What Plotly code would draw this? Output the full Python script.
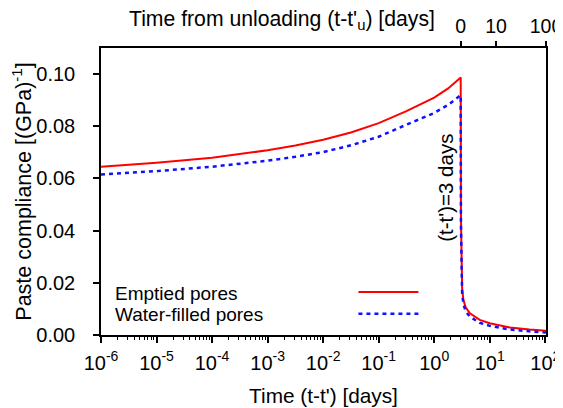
"""Paste compliance during loading and after unloading (log time axis)."""

import math

import plotly.graph_objects as go

FONT = "Liberation Sans, Arial, sans-serif"
BLACK = "#000000"
RED = "#ff0000"
BLUE = "#1010ff"

# time since loading, days
time_days = [1e-6, 1e-5, 1e-4, 1e-3, 3.16e-3, 1e-2, 3.16e-2, 1e-1, 3.16e-1, 1.0, 1.78,
             3.0, 3.03, 3.08, 3.18, 3.35, 3.7, 4.4, 6.6, 10, 23, 52, 103]
emptied = [0.0645, 0.0660, 0.0679, 0.0708, 0.0726, 0.0748, 0.0776, 0.0812, 0.0858, 0.0910, 0.0945,
           0.0987, 0.045, 0.026, 0.018, 0.0135, 0.0105, 0.0083, 0.0058, 0.0045, 0.0029, 0.0021, 0.0016]
water_filled = [0.0615, 0.0628, 0.0645, 0.0668, 0.0683, 0.0701, 0.0727, 0.0760, 0.0806, 0.0851, 0.0882,
                0.0919, 0.042, 0.024, 0.016, 0.0118, 0.0090, 0.0070, 0.0047, 0.0035, 0.0021, 0.0014, 0.0010]

unload_at = 3.0
top_ticks = [0, 10, 100]
bottom_tickvals = [1e-6, 1e-5, 1e-4, 1e-3, 1e-2, 1e-1, 1e0, 1e1, 1e2]
bottom_ticktext = ["10<sup>-6</sup>", "10<sup>-5</sup>", "10<sup>-4</sup>", "10<sup>-3</sup>",
                   "10<sup>-2</sup>", "10<sup>-1</sup>", "10<sup>0</sup>", "10<sup>1</sup>",
                   "10<sup>2</sup>"]
legend_names = ["Emptied pores", "Water-filled pores"]

x_range = [-6, math.log10(unload_at + top_ticks[-1])]

fig = go.Figure()
fig.add_trace(go.Scatter(x=time_days, y=emptied, mode="lines", name=legend_names[0],
                         line=dict(color=RED, width=2)))
fig.add_trace(go.Scatter(x=time_days, y=water_filled, mode="lines", name=legend_names[1],
                         line=dict(color=BLUE, width=2.5, dash="4px,4px")))
# invisible trace so the top axis exists
fig.add_trace(go.Scatter(x=[unload_at], y=[None], xaxis="x2", showlegend=False, hoverinfo="skip"))

axis_common = dict(showgrid=False, zeroline=False, linecolor=BLACK, linewidth=1.5, automargin=False,
                   tickcolor=BLACK, tickwidth=1.5)

# page body has an 8px margin, so the figure is drawn 8px in from the corner
fig.update_layout(
    width=555,
    height=400,
    paper_bgcolor="white",
    plot_bgcolor="white",
    font=dict(family=FONT, color=BLACK, size=19),
    showlegend=False,
    margin=dict(l=93, r=17, t=40, b=73),
    xaxis=dict(
        type="log", range=x_range, mirror=True, showline=True,
        ticks="outside", ticklen=6, tickmode="array", ticklabelstandoff=3,
        tickvals=bottom_tickvals, ticktext=bottom_ticktext, tickfont=dict(size=20),
        minor=dict(ticks="outside", ticklen=3, dtick="D1", tickcolor=BLACK, tickwidth=1.2),
        title=dict(text="Time (t-t') [days]", font=dict(size=20.8), standoff=16),
        **axis_common,
    ),
    xaxis2=dict(
        type="log", range=x_range, overlaying="x", side="top", showline=False,
        ticks="outside", ticklen=6, tickmode="array", tickfont=dict(size=19.5),
        tickvals=[unload_at + v for v in top_ticks], ticktext=[str(v) for v in top_ticks],
        **axis_common,
    ),
    yaxis=dict(
        range=[0, 0.11], mirror=True, showline=True, ticks="outside", ticklen=6,
        tickmode="linear", tick0=0, dtick=0.02, tickformat=".2f", ticklabelstandoff=14,
        tickfont=dict(size=20),
        title=dict(text="Paste compliance [(GPa)<sup>-1</sup>]", font=dict(size=21.5), standoff=8),
        **axis_common,
    ),
    annotations=[
        dict(text="Time from unloading (t-t'<sub>u</sub>) [days]", xref="paper", yref="paper",
             x=0.756, y=1.0976, xanchor="right", yanchor="middle", showarrow=False,
             font=dict(size=21.2)),
        dict(text="(t-t')=3 days", xref="x", yref="y", x=0.21, y=0.0564, textangle=-90,
             showarrow=False, font=dict(size=20.5)),
        dict(text=legend_names[0], xref="paper", yref="paper", x=0.026, y=0.1454,
             xanchor="left", yanchor="middle", showarrow=False, font=dict(size=19)),
        dict(text=legend_names[1], xref="paper", yref="paper", x=0.026, y=0.0718,
             xanchor="left", yanchor="middle", showarrow=False, font=dict(size=19)),
    ],
    shapes=[
        dict(type="line", xref="paper", yref="paper", x0=0.5785, x1=0.7133, y0=0.1499, y1=0.1499,
             line=dict(color=RED, width=2)),
        dict(type="line", xref="paper", yref="paper", x0=0.5785, x1=0.7133, y0=0.0743, y1=0.0743,
             line=dict(color=BLUE, width=2.5, dash="4px,4px")),
    ],
)

fig.write_html("out.html")
